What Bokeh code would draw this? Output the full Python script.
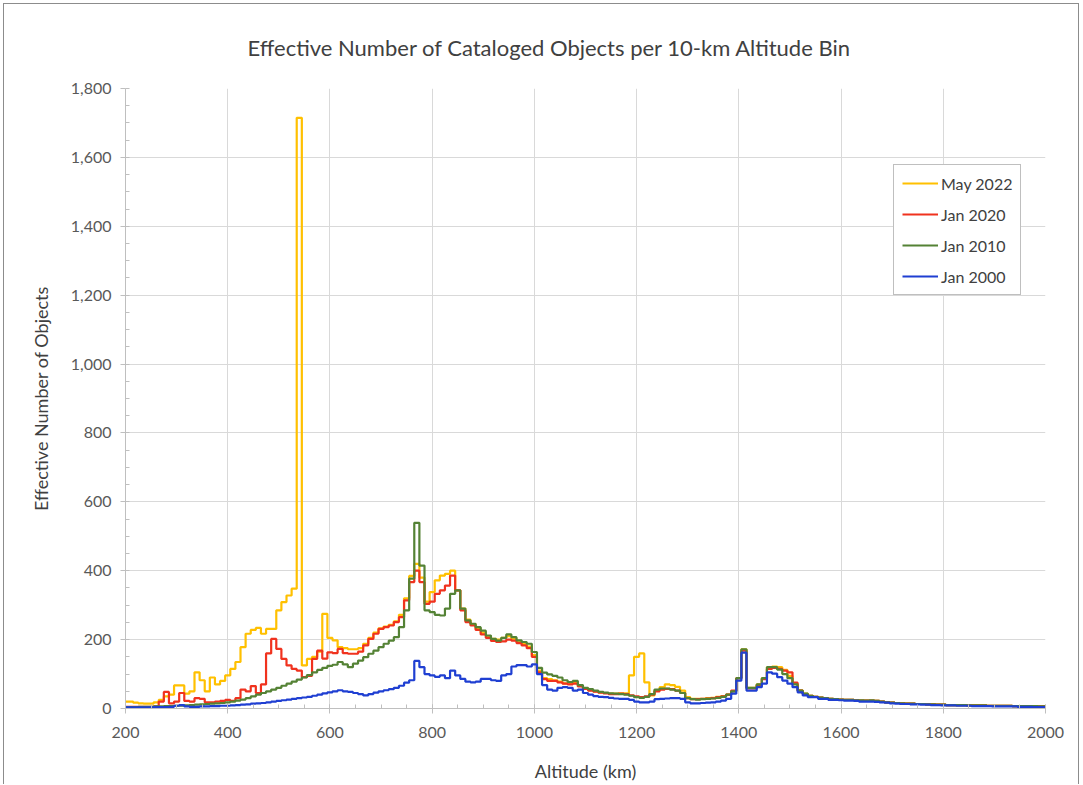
from bokeh.plotting import figure
from bokeh.models import (Range1d, SingleIntervalTicker, NumeralTickFormatter,
                          Legend, LegendItem, ColumnDataSource)
from bokeh.embed import file_html
from bokeh.resources import INLINE

# 10-km altitude bins (bin centres, km)
altitude_km = list(range(200, 2010, 10))

may_2022 = [
    20, 20, 17, 15, 14, 14, 18, 25, 35, 40,
    67, 67, 43, 50, 105, 82, 50, 90, 70, 80,
    96, 115, 135, 178, 217, 228, 234, 217, 231, 231,
    285, 309, 328, 348, 1715, 125, 144, 150, 165, 275,
    205, 198, 178, 175, 172, 172, 175, 188, 205, 220,
    233, 238, 243, 253, 272, 320, 385, 420, 380, 310,
    338, 372, 386, 391, 400, 343, 290, 258, 245, 232,
    220, 210, 202, 200, 205, 210, 203, 195, 187, 180,
    155, 110, 88, 85, 82, 78, 73, 72, 74, 66,
    58, 53, 50, 47, 45, 43, 43, 44, 44, 96,
    150, 160, 76, 38, 52, 62, 70, 68, 63, 52,
    33, 28, 28, 28, 30, 31, 34, 36, 40, 50,
    88, 172, 60, 60, 70, 88, 120, 122, 120, 112,
    95, 72, 53, 43, 37, 34, 32, 30, 28, 27,
    26, 25, 25, 24, 23, 23, 23, 22, 20, 18,
    17, 16, 15, 14, 14, 13, 13, 12, 12, 11,
    11, 10, 10, 10, 10, 9, 9, 9, 9, 8,
    8, 8, 8, 8, 7, 7, 7, 7, 7, 6,
    6,
]

jan_2020 = [
    5, 5, 5, 5, 5, 5, 6, 20, 48, 15,
    20, 45, 22, 20, 30, 28, 18, 18, 20, 22,
    25, 22, 30, 55, 50, 65, 45, 70, 160, 202,
    173, 144, 125, 115, 110, 91, 95, 144, 168, 145,
    163, 161, 173, 161, 159, 159, 165, 183, 202, 217,
    231, 236, 241, 251, 265, 314, 367, 400, 367, 304,
    310, 333, 343, 357, 386, 343, 285, 251, 241, 228,
    215, 205, 196, 193, 195, 200, 197, 190, 183, 175,
    150, 105, 85, 80, 80, 76, 72, 70, 72, 64,
    57, 52, 49, 46, 44, 42, 42, 43, 42, 38,
    35, 33, 35, 40, 50, 55, 57, 56, 52, 45,
    30, 27, 27, 28, 29, 30, 33, 35, 40, 52,
    88, 168, 58, 58, 68, 85, 115, 118, 115, 110,
    105, 75, 52, 42, 37, 34, 32, 30, 28, 27,
    26, 25, 25, 24, 23, 23, 23, 22, 20, 18,
    17, 16, 15, 14, 14, 13, 13, 12, 12, 11,
    11, 10, 10, 10, 10, 9, 9, 9, 9, 8,
    8, 8, 8, 8, 7, 7, 7, 7, 7, 6,
    6,
]

jan_2010 = [
    4, 4, 4, 5, 5, 5, 6, 6, 7, 7,
    8, 8, 9, 10, 11, 12, 13, 14, 15, 16,
    18, 20, 23, 26, 30, 35, 40, 45, 50, 55,
    60, 66, 72, 78, 84, 90, 97, 105, 112, 118,
    124, 127, 135, 128, 120, 130, 139, 149, 159, 168,
    178, 188, 197, 207, 236, 285, 377, 539, 415, 285,
    280, 272, 270, 290, 333, 343, 290, 256, 246, 236,
    226, 212, 202, 197, 205, 215, 207, 198, 193, 188,
    164, 118, 104, 99, 95, 90, 82, 77, 80, 68,
    60, 56, 52, 48, 46, 44, 43, 42, 40, 37,
    33, 31, 34, 42, 55, 58, 58, 55, 52, 45,
    30, 27, 26, 27, 28, 29, 31, 34, 40, 50,
    88, 172, 60, 60, 70, 88, 120, 120, 113, 100,
    88, 70, 52, 43, 37, 34, 32, 30, 28, 27,
    26, 25, 25, 24, 24, 23, 24, 22, 20, 18,
    17, 16, 15, 14, 14, 13, 13, 12, 12, 11,
    11, 10, 10, 10, 10, 9, 9, 9, 9, 8,
    8, 8, 8, 8, 7, 7, 7, 7, 7, 6,
    6,
]

jan_2000 = [
    3, 3, 3, 3, 3, 3, 4, 4, 4, 5,
    8, 10, 6, 5, 5, 6, 6, 7, 7, 8,
    8, 9, 10, 11, 12, 14, 15, 16, 18, 20,
    22, 24, 26, 28, 30, 32, 34, 37, 40, 44,
    47, 50, 53, 50, 48, 45, 42, 38, 42, 46,
    50, 53, 56, 60, 66, 75, 82, 138, 120, 100,
    96, 92, 96, 88, 110, 96, 86, 78, 76, 78,
    86, 86, 82, 80, 96, 100, 122, 126, 126, 122,
    128, 100, 68, 55, 52, 60, 62, 60, 52, 55,
    45, 40, 36, 34, 33, 31, 29, 28, 28, 25,
    20, 18, 18, 20, 27, 28, 29, 30, 30, 28,
    18, 15, 15, 16, 17, 18, 20, 23, 28, 43,
    81, 162, 52, 52, 62, 72, 105, 101, 91, 81,
    72, 62, 47, 38, 33, 33, 28, 28, 25, 25,
    24, 23, 23, 22, 20, 20, 20, 19, 18, 17,
    15, 14, 13, 13, 12, 12, 11, 11, 10, 10,
    9, 9, 9, 8, 8, 8, 7, 7, 7, 7,
    6, 6, 6, 6, 6, 5, 5, 5, 4, 4,
    4,
]

series_names = ["May 2022", "Jan 2020", "Jan 2010", "Jan 2000"]
series_colors = ["#FFC000", "#F0321E", "#548235", "#1F3FD2"]

FONT = "Lato"
TXT = "#404040"

p = figure(width=1076, height=781, output_backend="svg", toolbar_location=None,
           x_range=Range1d(200, 2000), y_range=Range1d(0, 1800),
           min_border_left=121, min_border_right=35, min_border_top=84,
           min_border_bottom=77)
p.margin = (3, 0, 0, 3)
p.styles = {"border-top": "1px solid #8c8c8c", "border-left": "1px solid #8c8c8c",
            "border-right": "1px solid #8c8c8c"}

p.title.text = "Effective Number of Cataloged Objects per 10-km Altitude Bin"
p.title.text_font = FONT
p.title.text_font_size = "22px"
p.title.text_font_style = "normal"
p.title.text_color = TXT
p.title.align = "left"
p.title.offset = 122
p.title.vertical_align = "top"
p.title.standoff = 52

p.outline_line_color = None
p.background_fill_color = "white"
p.border_fill_color = "white"

src = ColumnDataSource(dict(alt=altitude_km, s0=may_2022, s1=jan_2020,
                            s2=jan_2010, s3=jan_2000))
renderers = []
for i, (name, col) in enumerate(zip(series_names, series_colors)):
    r = p.step("alt", f"s{i}", source=src, mode="center", line_color=col,
               line_width=2.2)
    renderers.append(r)

# axes
xa = p.xaxis[0]
xa.ticker = SingleIntervalTicker(interval=200, num_minor_ticks=4)
xa.axis_label = "Altitude (km)"
ya = p.yaxis[0]
ya.ticker = SingleIntervalTicker(interval=200, num_minor_ticks=4)
ya.formatter = NumeralTickFormatter(format="0,0")
ya.axis_label = "Effective Number of Objects"

for ax in (xa, ya):
    ax.axis_line_color = "#bfbfbf"
    ax.major_tick_line_color = "#bfbfbf"
    ax.minor_tick_line_color = "#bfbfbf"
    ax.minor_tick_in = 4
    ax.minor_tick_out = 0
    ax.major_label_text_font = FONT
    ax.major_label_text_font_size = "16px"
    ax.major_label_text_color = "#595959"
    ax.axis_label_text_font = FONT
    ax.axis_label_text_font_size = "18px"
    ax.axis_label_text_font_style = "normal"
    ax.axis_label_text_color = TXT

xa.major_tick_in = 4
xa.major_tick_out = 5
xa.major_label_standoff = 13
xa.axis_label_standoff = 19
ya.major_tick_in = 0
ya.major_tick_out = 5
ya.major_label_standoff = 9
ya.axis_label_standoff = 16

p.xgrid.ticker = xa.ticker
p.ygrid.ticker = ya.ticker
p.xgrid.grid_line_color = "#d9d9d9"
p.ygrid.grid_line_color = "#d9d9d9"

legend = Legend(items=[LegendItem(label=n, renderers=[r])
                       for n, r in zip(series_names, renderers)],
                location=(768, 413))
legend.border_line_color = "#808080"
legend.border_line_width = 1
legend.background_fill_color = "white"
legend.background_fill_alpha = 1
legend.label_text_font = FONT
legend.label_text_font_size = "16px"
legend.label_text_color = TXT
legend.glyph_width = 36
legend.glyph_height = 20
legend.label_height = 20
legend.label_standoff = 3
legend.spacing = 11
legend.padding = 8
legend.margin = 0
p.add_layout(legend, "center")

open("out.html", "w").write(file_html(p, INLINE))
